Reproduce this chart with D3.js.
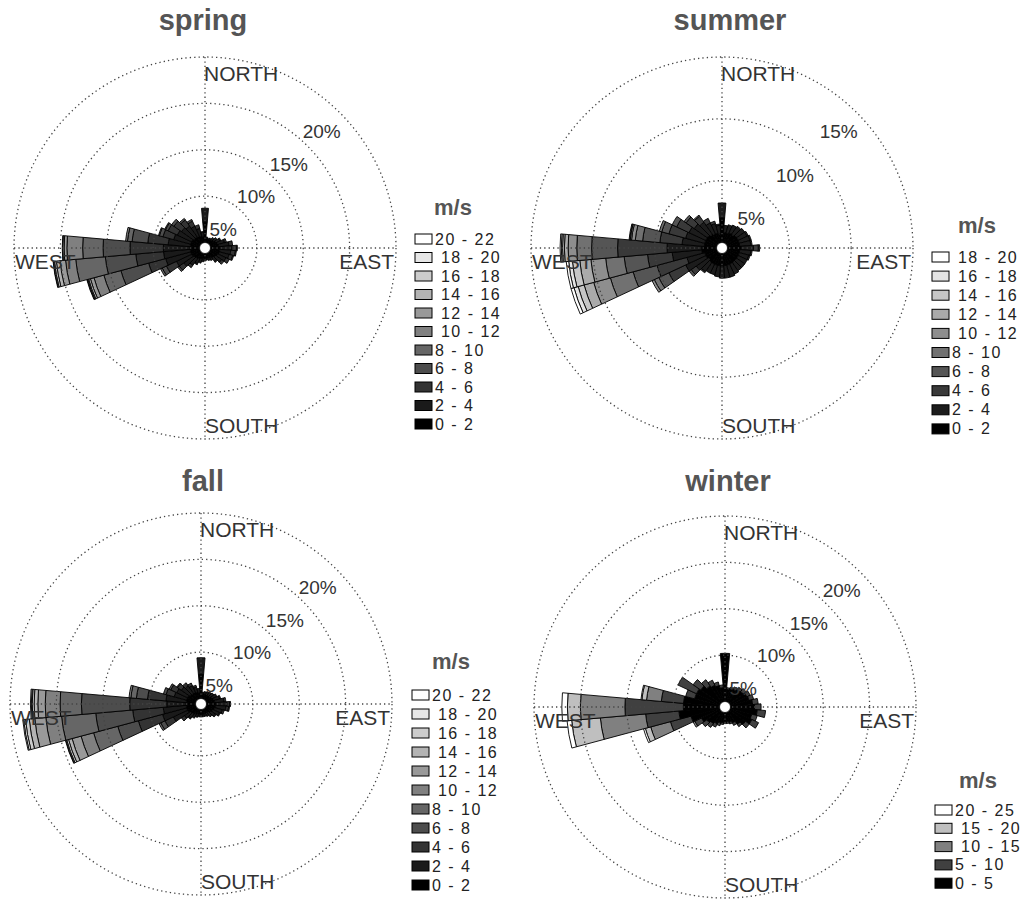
<!DOCTYPE html>
<html>
<head>
<meta charset="utf-8">
<script src="https://cdnjs.cloudflare.com/ajax/libs/d3/7.8.5/d3.min.js"></script>
<style>
  body { margin: 0; background: #fff; }
  svg { display: block; }
  text { font-family: "Liberation Sans", Arial, sans-serif; }
</style>
</head>
<body>
<svg id="chart" width="1025" height="899"></svg>
<script>
// direction bins (degrees, from north clockwise)
var directions = [0, 10, 20, 30, 40, 50, 60, 70, 80, 90, 100, 110, 120, 130, 140, 150, 160, 170,
                  180, 190, 200, 210, 220, 230, 240, 250, 260, 270, 280, 290, 300, 310, 320, 330, 340, 350];

// speed classes as printed in each legend (top row = highest class)
var binsSpring = ["0 - 2", "2 - 4", "4 - 6", "6 - 8", "8 - 10", " 10 - 12", " 12 - 14", " 14 - 16", " 16 - 18", " 18 - 20", "20 - 22"];
var binsSummer = ["0 - 2", "2 - 4", "4 - 6", "6 - 8", "8 - 10", " 10 - 12", " 12 - 14", " 14 - 16", " 16 - 18", " 18 - 20"];
var binsFall   = ["0 - 2", "2 - 4", "4 - 6", "6 - 8", "8 - 10", " 10 - 12", " 12 - 14", " 14 - 16", " 16 - 18", " 18 - 20", "20 - 22"];
var binsWinter = ["0 - 5", "5 - 10", " 10 - 15", " 15 - 20", "20 - 25"];

// frequency (%) per direction, per speed class (inner -> outer)
var freqSpring = [
  [2.2, 1.5], [0.4, 0.2], [0.3, 0.2], [0.4, 0.2], [0.5, 0.3], [0.6, 0.4],
  [0.7, 0.5, 0.1], [0.8, 0.8, 0.2], [0.9, 1.1, 0.4], [1.0, 1.3, 0.5, 0.1], [1.0, 1.2, 0.5, 0.1], [1.0, 1.1, 0.4, 0.1],
  [0.9, 1.0, 0.4], [0.8, 0.8, 0.3], [0.7, 0.5, 0.1], [0.6, 0.3], [0.5, 0.3], [0.5, 0.2],
  [0.5, 0.3], [0.5, 0.4], [0.6, 0.5], [0.7, 0.6, 0.1], [0.8, 0.9, 0.3], [0.9, 1.3, 0.6, 0.2],
  [1.0, 1.8, 1.2, 0.5, 0.2],
  [1.0, 2.8, 1.9, 3.1, 1.9, 1.1, 0.4, 0.2, 0.1, 0.05, 0.05],
  [1.0, 2.9, 3.0, 3.3, 3.2, 1.1, 0.6, 0.4, 0.2, 0.1, 0.05],
  [1.0, 2.9, 3.6, 2.9, 2.2, 1.7, 0.3, 0.15, 0.05],
  [1.0, 2.4, 2.2, 1.7, 0.5, 0.2],
  [1.0, 1.9, 1.2, 0.4, 0.1], [1.0, 1.7, 1.1, 0.3, 0.1], [0.9, 1.6, 1.0, 0.3],
  [0.9, 1.4, 0.8, 0.2], [0.8, 1.2, 0.6, 0.2], [0.7, 0.9, 0.4], [0.6, 0.5, 0.1]
];

var freqSummer = [
  [2.0, 1.2], [0.8, 0.6], [0.8, 0.7], [0.9, 0.7], [0.9, 0.8], [1.0, 0.8],
  [1.0, 0.8, 0.1], [1.0, 0.9, 0.1], [1.0, 0.9, 0.1], [1.1, 1.0, 0.4, 0.1], [1.0, 0.9, 0.1], [1.0, 0.8, 0.1],
  [1.0, 0.8], [1.0, 0.8], [1.0, 0.8], [1.0, 0.9], [1.0, 1.0], [1.0, 1.0],
  [1.0, 1.0], [1.0, 0.9], [1.0, 0.8], [1.0, 0.8], [1.0, 0.9, 0.1], [0.9, 1.2, 0.5, 0.2],
  [1.0, 1.8, 1.5, 0.9, 0.4, 0.2],
  [1.0, 1.5, 2.5, 2.0, 1.9, 1.4, 0.8, 0.5, 0.35, 0.25],
  [1.2, 2.4, 2.0, 1.9, 1.5, 1.2, 0.9, 0.6, 0.3, 0.2],
  [1.2, 2.8, 4.0, 2.1, 1.2, 0.7, 0.3, 0.15, 0.1, 0.1],
  [1.0, 1.8, 1.8, 1.4, 0.6, 0.3, 0.1, 0.05, 0.05],
  [1.0, 1.6, 1.4, 0.6, 0.2], [1.0, 1.5, 1.1, 0.4], [1.0, 1.3, 0.8, 0.2],
  [0.9, 1.2, 0.6, 0.1], [0.8, 1.0, 0.4], [0.8, 0.8, 0.2], [0.7, 0.7, 0.1]
];

var freqFall = [
  [2.6, 1.8], [0.4, 0.3], [0.5, 0.3], [0.5, 0.4], [0.6, 0.4], [0.6, 0.5],
  [0.7, 0.6], [0.8, 0.7, 0.1], [0.9, 1.0, 0.2], [1.0, 1.2, 0.3, 0.1], [1.0, 1.1, 0.3, 0.1], [0.9, 0.9, 0.2],
  [0.8, 0.8, 0.1], [0.7, 0.6, 0.1], [0.6, 0.5], [0.5, 0.4], [0.5, 0.3], [0.5, 0.3],
  [0.5, 0.3], [0.5, 0.3], [0.5, 0.4], [0.6, 0.5], [0.7, 0.6, 0.1], [0.8, 0.8, 0.4],
  [1.0, 1.7, 1.0, 0.5, 0.2],
  [1.0, 2.7, 2.7, 2.3, 2.7, 1.4, 1.0, 0.4, 0.2, 0.1, 0.05],
  [1.0, 2.5, 3.3, 4.0, 3.7, 1.7, 1.2, 0.6, 0.4, 0.2, 0.1],
  [1.0, 2.1, 4.0, 5.2, 2.3, 1.6, 0.8, 0.4, 0.2, 0.1, 0.1],
  [1.0, 2.2, 2.0, 1.2, 0.6, 0.2],
  [1.0, 1.4, 0.9, 0.3], [1.0, 1.3, 0.7, 0.2], [0.9, 1.1, 0.5, 0.1],
  [0.8, 1.0, 0.4], [0.8, 0.8, 0.3], [0.7, 0.6, 0.2], [0.6, 0.5]
];

var freqWinter = [
  [5.2], [1.3, 0.2], [1.4, 0.2], [1.5, 0.3], [1.7, 0.3], [1.8, 0.4],
  [2.0, 0.4], [2.1, 0.5], [2.4, 0.6], [2.6, 0.7], [2.9, 0.9], [2.4, 0.6],
  [2.6, 0.8], [2.1, 0.5], [1.7, 0.3], [1.3, 0.3], [1.1, 0.2], [1.0, 0.2],
  [1.0, 0.2], [1.1, 0.2], [1.2, 0.3], [1.4, 0.4], [1.6, 0.5], [1.8, 0.6],
  [2.2, 0.8, 0.2],
  [3.2, 2.3, 2.2, 0.6, 0.2],
  [4.4, 3.6, 4.9, 3.1, 0.5],
  [3.9, 6.3, 4.8, 1.4, 0.6],
  [3.9, 2.4, 1.6, 0.5, 0.1],
  [2.8, 1.0], [2.8, 2.2], [2.6, 1.0],
  [2.2, 0.8], [2.0, 0.6], [1.8, 0.4], [1.5, 0.3]
];

// percentage rings
var ticks20 = [5, 10, 15, 20];
var ticks15 = [5, 10, 15];

var panels = [
  {title: "spring", freq: freqSpring, bins: binsSpring, ticks: ticks20, cx: 205, cy: 248, tx: 203, ty: 30,
   leg: {x: 415, y: 239, step: 18.5, tx: 453, ty: 215}},
  {title: "summer", freq: freqSummer, bins: binsSummer, ticks: ticks15, cx: 722, cy: 248, tx: 730, ty: 30,
   leg: {x: 932, y: 257, step: 19.1, tx: 977, ty: 233}},
  {title: "fall", freq: freqFall, bins: binsFall, ticks: ticks20, cx: 201, cy: 704, tx: 203, ty: 491,
   leg: {x: 412, y: 695, step: 19.0, tx: 451, ty: 669}},
  {title: "winter", freq: freqWinter, bins: binsWinter, ticks: ticks20, cx: 725, cy: 707, tx: 728, ty: 491,
   leg: {x: 935, y: 810, step: 18.3, tx: 978, ty: 788}}
];

var svg = d3.select("#chart");
var innerR = 5.5, outerR = 191;
var rad = Math.PI / 180;

panels.forEach(function(p) {
  var g = svg.append("g").attr("transform", "translate(" + p.cx + "," + p.cy + ")");
  var r = d3.scaleLinear().domain([0, p.ticks[p.ticks.length - 1]]).range([innerR, outerR]);
  var color = d3.scaleLinear().domain([0, p.bins.length - 1]).range(["#000", "#fff"]);
  var arc = d3.arc();

  // stacked wedges
  directions.forEach(function(dir, i) {
    var cum = 0;
    p.freq[i].forEach(function(v, k) {
      g.append("path")
        .attr("d", arc({innerRadius: r(cum), outerRadius: r(cum + v),
                        startAngle: (dir - 5) * rad, endAngle: (dir + 5) * rad}))
        .attr("fill", color(k))
        .attr("stroke", "#000")
        .attr("stroke-width", 0.9);
      cum += v;
    });
  });

  // dotted grid on top
  g.selectAll("circle.ring")
    .data(p.ticks).enter()
    .append("circle")
      .attr("r", function(d) { return r(d); })
      .attr("fill", "none")
      .attr("stroke", "#444")
      .attr("stroke-width", 1.3)
      .attr("stroke-dasharray", "1.3,3.1");

  g.append("line").attr("x1", -outerR).attr("x2", outerR).attr("y1", 0).attr("y2", 0)
    .attr("stroke", "#444").attr("stroke-width", 1.3).attr("stroke-dasharray", "1.3,3.1");
  g.append("line").attr("y1", -outerR).attr("y2", outerR).attr("x1", 0).attr("x2", 0)
    .attr("stroke", "#444").attr("stroke-width", 1.3).attr("stroke-dasharray", "1.3,3.1");

  g.append("circle").attr("r", innerR).attr("fill", "#fff").attr("stroke", "#000").attr("stroke-width", 0.8);

  // percent labels along the 45 degree line
  g.selectAll("text.pct")
    .data(p.ticks).enter()
    .append("text")
      .attr("x", function(d) { return (r(d) - 26) * Math.cos(45 * rad); })
      .attr("y", function(d) { return -(r(d) - 26) * Math.sin(45 * rad); })
      .attr("text-anchor", "middle")
      .attr("dominant-baseline", "central")
      .style("font-size", "19px")
      .style("fill", "#333")
      .text(function(d) { return d + "%"; });

  // compass labels
  var lab = {fontSize: "21px", fill: "#333"};
  g.append("text").attr("x", -1).attr("y", -outerR + 24).text("NORTH")
    .style("font-size", lab.fontSize).style("fill", lab.fill);
  g.append("text").attr("x", 0).attr("y", outerR - 6).text("SOUTH")
    .style("font-size", lab.fontSize).style("fill", lab.fill);
  g.append("text").attr("x", -outerR + 1).attr("y", 21).text("WEST")
    .style("font-size", lab.fontSize).style("fill", lab.fill);
  g.append("text").attr("x", outerR - 2).attr("y", 21).attr("text-anchor", "end").text("EAST")
    .style("font-size", lab.fontSize).style("fill", lab.fill);

  // title
  svg.append("text")
    .attr("x", p.tx).attr("y", p.ty)
    .attr("text-anchor", "middle")
    .style("font-size", "29px").style("font-weight", "bold").style("fill", "#555")
    .text(p.title);

  // legend
  var L = p.leg;
  svg.append("text")
    .attr("x", L.tx).attr("y", L.ty)
    .attr("text-anchor", "middle")
    .style("font-size", "22px").style("font-weight", "bold").style("fill", "#555")
    .text("m/s");

  var n = p.bins.length;
  var rows = svg.selectAll("g.leg-" + p.title)
    .data(d3.range(n).reverse()).enter()
    .append("g")
      .attr("transform", function(k, j) { return "translate(" + L.x + "," + (L.y + j * L.step) + ")"; });
  rows.append("rect")
    .attr("x", 0).attr("y", -5).attr("width", 17).attr("height", 10)
    .attr("fill", function(k) { return color(k); })
    .attr("stroke", "#000").attr("stroke-width", 1);
  rows.append("text")
    .attr("x", 20).attr("y", 0)
    .attr("dominant-baseline", "central")
    .attr("xml:space", "preserve")
    .style("white-space", "pre")
    .style("font-size", "16px").style("letter-spacing", "1.5px").style("fill", "#222")
    .text(function(k) { return p.bins[k]; });
});
</script>
</body>
</html>
